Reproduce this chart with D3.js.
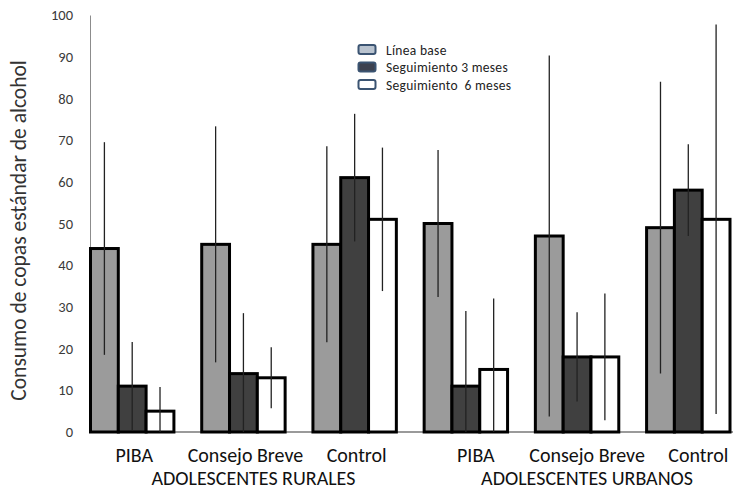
<!DOCTYPE html>
<html>
<head>
<meta charset="utf-8">
<script src="https://cdn.jsdelivr.net/npm/d3@7"></script>
<style>
  html, body { margin: 0; padding: 0; background: #fff; }
  svg { display: block; }
  text { font-family: Carlito, Lato, "Open Sans", sans-serif; }
</style>
</head>
<body>
<svg id="chart" width="733" height="493"></svg>
<script>
// ---- data ----
const regions = ["ADOLESCENTES RURALES", "ADOLESCENTES URBANOS"];
const categories = ["PIBA", "Consejo Breve", "Control"];
const series = ["Línea base", "Seguimiento 3 meses", "Seguimiento  6 meses"];
const lineaBase = [44, 45, 45, 50, 47, 49];
const seg3 = [11, 14, 61, 11, 18, 58];
const seg6 = [5, 13, 51, 15, 18, 51];
const sdLineaBase = [25.5, 28.3, 23.5, 17.6, 43.3, 35];
const sdSeg3 = [10.6, 14.5, 15.3, 18, 10.7, 11];
const sdSeg6 = [5.8, 7.3, 17.2, 17, 15.2, 46.7];
const yTicks = [0, 10, 20, 30, 40, 50, 60, 70, 80, 90, 100];

// ---- build table ----
const groups = [];
regions.forEach((r, ri) => categories.forEach((c, ci) => groups.push({ region: r, ri, cat: c, key: ri + "|" + c })));
const valueSets = [lineaBase, seg3, seg6];
const sdSets = [sdLineaBase, sdSeg3, sdSeg6];
const rows = [];
groups.forEach((g, gi) => series.forEach((s, si) => rows.push({ g, s, si, v: valueSets[si][gi], sd: sdSets[si][gi] })));

// ---- layout ----
const W = 733, H = 493;
const axisX = 90, plotTop = 15, plotBottom = 432;
const svg = d3.select("#chart");

const y = d3.scaleLinear().domain([0, 100]).range([plotBottom, plotTop]);
const x0 = d3.scaleBand().domain(groups.map(g => g.key)).range([90.5, 730]).paddingInner(0.25).paddingOuter(0);
const x1 = d3.scaleBand().domain(series).range([0, x0.bandwidth()]);
const fills = d3.scaleOrdinal().domain(series).range(["#9b9b9b", "#404040", "#ffffff"]);

// y axis
const yAxis = d3.axisLeft(y).tickValues(yTicks).tickSize(0).tickSizeOuter(0).tickPadding(17);
const ya = svg.append("g").attr("transform", `translate(${axisX},0)`).call(yAxis);
ya.select(".domain").attr("stroke", "#8c8c8c").attr("stroke-width", 1);
ya.selectAll("text").attr("font-size", 14.5).attr("fill", "#3a3a3a");

// baseline
svg.append("line").attr("x1", axisX).attr("x2", W).attr("y1", y(0)).attr("y2", y(0))
  .attr("stroke", "#9a9a9a").attr("stroke-width", 2);

// bars
svg.append("g").selectAll("rect").data(rows).join("rect")
  .attr("x", d => x0(d.g.key) + x1(d.s))
  .attr("y", d => y(d.v))
  .attr("width", x1.bandwidth())
  .attr("height", d => y(0) - y(d.v))
  .attr("fill", d => fills(d.s))
  .attr("stroke", "#000")
  .attr("stroke-width", 3);

// error bars
svg.append("g").selectAll("line").data(rows).join("line")
  .attr("x1", d => x0(d.g.key) + x1(d.s) + x1.bandwidth() / 2)
  .attr("x2", d => x0(d.g.key) + x1(d.s) + x1.bandwidth() / 2)
  .attr("y1", d => y(d.v + d.sd))
  .attr("y2", d => y(Math.max(0, d.v - d.sd)))
  .attr("stroke", "#222")
  .attr("stroke-width", 1.3);

// category labels
const regionShift = [2, 10];
svg.append("g").selectAll("text").data(groups).join("text")
  .attr("x", d => x0(d.key) + x0.bandwidth() / 2 + regionShift[d.ri])
  .attr("y", 461.5)
  .attr("text-anchor", "middle")
  .attr("font-size", 20)
  .attr("fill", "#111")
  .text(d => d.cat);

// region labels
svg.append("g").selectAll("text").data(regions).join("text")
  .attr("x", (r, ri) => {
    const ks = groups.filter(g => g.ri === ri).map(g => g.key);
    return (x0(ks[0]) + x0(ks[ks.length - 1]) + x0.bandwidth()) / 2 + 10;
  })
  .attr("y", 485)
  .attr("text-anchor", "middle")
  .attr("font-size", 20)
  .attr("fill", "#111")
  .text(d => d);

// y title
svg.append("text")
  .attr("transform", `translate(26,${(plotTop + plotBottom) / 2 + 7}) rotate(-90)`)
  .attr("text-anchor", "middle")
  .attr("font-size", 21.5)
  .attr("fill", "#333")
  .text("Consumo de copas estándar de alcohol");

// legend
const legFill = ["#b9c3cf", "#3d4250", "#ffffff"];
const leg = svg.append("g").attr("transform", "translate(358,45)");
const li = leg.selectAll("g").data(series).join("g").attr("transform", (d, i) => `translate(0,${i * 17.5})`);
li.append("rect").attr("x", 0.5).attr("y", 0).attr("width", 17).attr("height", 9).attr("rx", 2)
  .attr("fill", (d, i) => legFill[i]).attr("stroke", "#3b5472").attr("stroke-width", 2);
li.append("text").attr("x", 28).attr("y", 5).attr("dy", "0.35em")
  .attr("font-size", 13.5).attr("letter-spacing", 0.3).attr("fill", "#222")
  .style("white-space", "pre")
  .text(d => d);
</script>
</body>
</html>
